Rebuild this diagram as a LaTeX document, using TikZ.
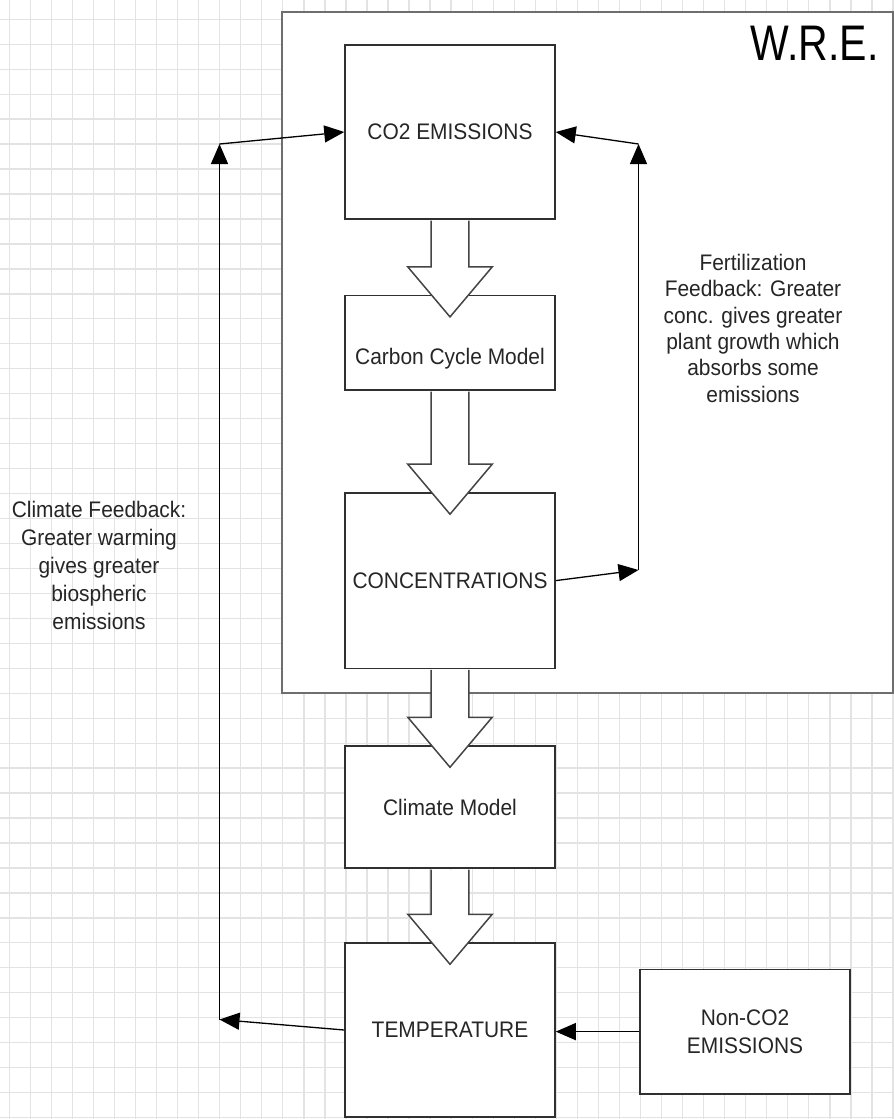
\documentclass[tikz,border=0pt]{standalone}
\usepackage{fontspec}
\setmainfont{Liberation Sans}[FakeStretch=0.93]
\newfontfamily\wrefont{Liberation Sans}[FakeStretch=0.82]
\usetikzlibrary{calc,arrows.meta}
\definecolor{gridc}{HTML}{E3E3E3}
\definecolor{txt}{HTML}{262626}
\definecolor{wreborder}{HTML}{6E6E6E}
\definecolor{boxborder}{HTML}{303030}
\definecolor{barrowc}{HTML}{444444}
\tikzset{
  boxnode/.style={draw=boxborder, line width=1.5pt, fill=white, inner sep=0pt,
    minimum width=210pt, text=txt, align=center, font=\fontsize{22.5}{28}\selectfont},
  lbl/.style={inner sep=0pt, text=txt, align=center, font=\fontsize{22.5}{28}\selectfont},
  conn/.style={draw=black, line width=1.3pt, -{Triangle[length=20pt,width=17pt]}},
  blockarrow/.style={draw=barrowc, line width=1.5pt, fill=white, line join=miter},
  gridline/.style={draw=gridc, line width=1.3pt},
}
\newcommand{\blockarr}[2]{%
  \draw[blockarrow] ($(#1.south)+(-18.8,0.8)$) -- ($(#2.north)+(-18.8,-28)$)
    -- ($(#2.north)+(-42.2,-28)$) -- ($(#2.north)+(0,22)$)
    -- ($(#2.north)+(42.2,-28)$) -- ($(#2.north)+(18.8,-28)$)
    -- ($(#1.south)+(18.8,0.8)$);}
\begin{document}
\begin{tikzpicture}[x=1pt,y=-1pt]
\useasboundingbox (0,0) rectangle (894,1119);
\fill[white] (0,0) rectangle (894,1119);
% grid
\foreach \i in {0,...,42} \draw[gridline] ({9.3+21.04*\i},0) -- ({9.3+21.04*\i},1119);
\foreach \j in {0,...,44} \draw[gridline] (0,{19.3+24.96*\j}) -- (894,{19.3+24.96*\j});
% W.R.E. frame
\node[draw=wreborder, line width=2pt, fill=white, inner sep=0pt,
      minimum width=610.4pt, minimum height=681pt] (wre) at (587.5,352.8) {};
\node[inner sep=0pt, anchor=base west, text=black, font=\wrefont\fontsize{50}{60}\selectfont]
      (wretitle) at (750.7,60) {W.R.E.};
% boxes
\node[boxnode, minimum height=174pt] (co2) at (450,132) {CO2 EMISSIONS};
\node[boxnode, minimum height=94.3pt] (carbon) at (450,342.8) {};
\node[lbl] (carbontext) at ($(carbon.center)+(0,16)$) {Carbon Cycle Model};
\node[boxnode, minimum height=175.3pt] (conc) at (450,580.6) {CONCENTRATIONS};
\node[boxnode, minimum height=122pt] (climate) at (450,807) {Climate Model};
\node[boxnode, minimum height=174pt] (temp) at (450,1030) {TEMPERATURE};
\node[boxnode, minimum height=124.7pt] (non) at (745,1031.6) {Non-CO2\\EMISSIONS};
% feedback connectors
\coordinate (cl1) at (219.5,1019.5);
\coordinate (cl2) at (219.5,144);
\coordinate (cr1) at (638.5,570);
\coordinate (cr2) at (638.5,144);
\draw[conn] (temp.west) -- (cl1);
\draw[conn] (cl1) -- (cl2);
\draw[conn] (cl2) -- (co2.west);
\draw[conn] (conc.east) -- (cr1);
\draw[conn] (cr1) -- (cr2);
\draw[conn] (cr2) -- (co2.east);
\draw[conn] (non.west) -- (temp.east |- non.west);
% block arrows
\blockarr{co2}{carbon}
\blockarr{carbon}{conc}
\blockarr{conc}{climate}
\blockarr{climate}{temp}
% feedback texts
\node[lbl, font=\fontsize{22.5}{26.3}\selectfont] (fert) at (753,328.3)
  {Fertilization\\Feedback: Greater\\conc. gives greater\\plant growth which\\absorbs some\\emissions};
\node[lbl] (clim) at (99,565.8)
  {Climate Feedback:\\Greater warming\\gives greater\\biospheric\\emissions};
\end{tikzpicture}
\end{document}
